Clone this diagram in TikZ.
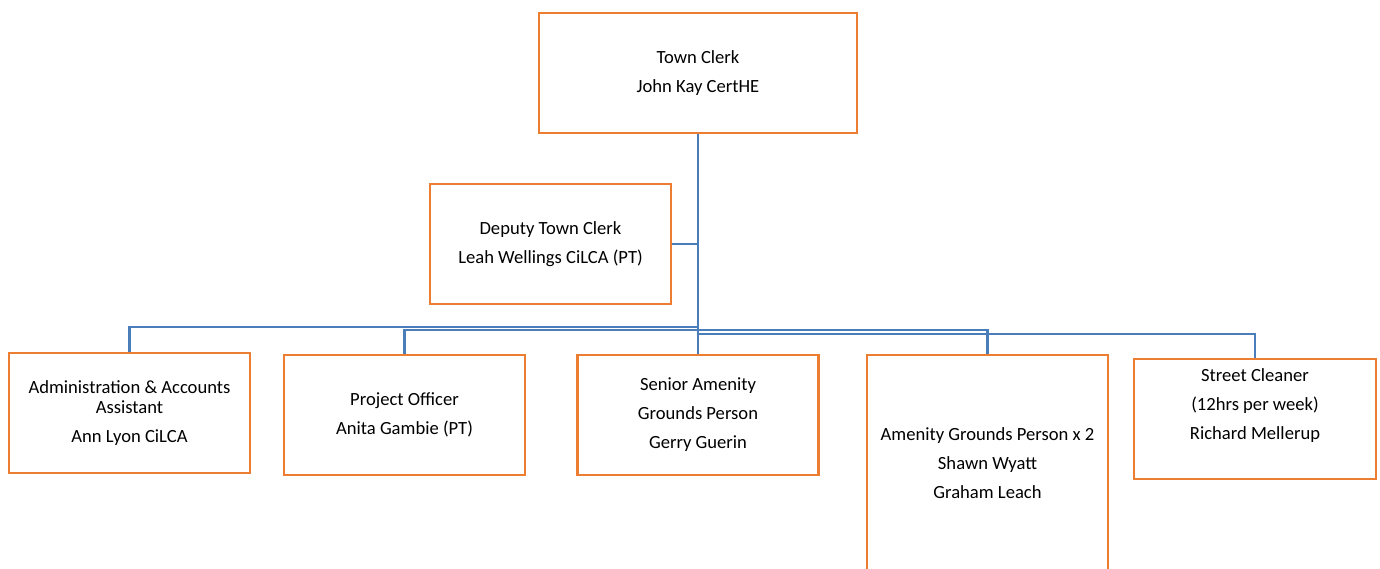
\documentclass[tikz,border=0pt]{standalone}
\usepackage{fontspec}
\setmainfont{Carlito}
\definecolor{boxorange}{HTML}{ED7D31}
\definecolor{lineblue}{HTML}{4A7EBB}
\begin{document}
\begin{tikzpicture}[x=1pt,y=-1pt,
  box/.style={draw=boxorange, line width=2.6pt, fill=white, align=center,
    minimum width=241pt, minimum height=120pt, inner sep=0pt,
    font=\fontsize{18.6}{29}\selectfont},
  conn/.style={draw=lineblue, line width=2.8pt}]
\useasboundingbox (0,0) rectangle (1380,568);
\clip (0,0) rectangle (1380,568);
\fill[white] (0,0) rectangle (1380,568);
\coordinate (h1) at (698,327);
\coordinate (h2) at (698,330);
\coordinate (h3) at (698,334);
\node[box, minimum width=318pt] (tc) at (698,73) {Town Clerk\\John Kay CertHE};
\node[box] (dep) at (550.5,244) {Deputy Town Clerk\\Leah Wellings CiLCA (PT)};
\node[box] (adm) at (129.5,413) {Administration \& Accounts\\[-9pt]Assistant\\Ann Lyon CiLCA};
\node[box] (po) at (404.5,415) {Project Officer\\Anita Gambie (PT)};
\node[box] (sa) at (698,415) {Senior Amenity\\Grounds Person\\Gerry Guerin};
\node[box, minimum height=216pt] (ag) at (987.5,463) {Amenity Grounds Person x 2\\Shawn Wyatt\\Graham Leach};
\node[box, minimum width=242pt] (sc) at (1255,419) {Street Cleaner\\(12hrs per week)\\Richard Mellerup\\\mbox{}};
\draw[conn] (tc.south) -- (sa.north);
\draw[conn] (dep.east) -- (dep.east -| tc.south);
\draw[conn] (h1) -| (adm.north);
\draw[conn] (h2) -| (po.north);
\draw[conn] (h2) -| (ag.north);
\draw[conn] (h3) -| (sc.north);
\end{tikzpicture}
\end{document}
